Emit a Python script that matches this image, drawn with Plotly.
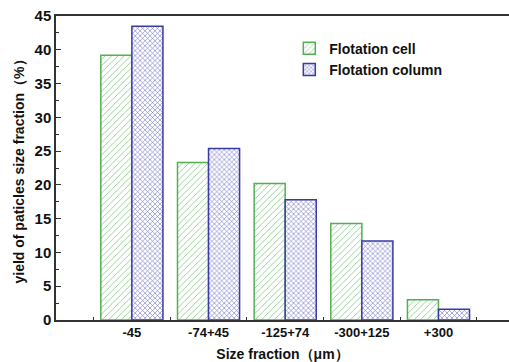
import plotly.graph_objects as go

categories = ["-45", "-74+45", "-125+74", "-300+125", "+300"]
cell_values = [39.2, 23.3, 20.2, 14.3, 3.0]
column_values = [43.5, 25.4, 17.8, 11.7, 1.6]
series_names = ["Flotation cell", "Flotation column"]

FONT = "Liberation Sans, Arial, sans-serif"

fig = go.Figure()
fig.add_trace(go.Bar(
    x=categories, y=cell_values, name=series_names[0],
    marker=dict(color="white",
                line=dict(color="#52b052", width=1.5),
                pattern=dict(shape="/", fgcolor="rgba(90,185,90,0.7)", bgcolor="white",
                             size=4.5, solidity=0.2, fillmode="replace")),
))
fig.add_trace(go.Bar(
    x=categories, y=column_values, name=series_names[1],
    marker=dict(color="white",
                line=dict(color="#3a3aa6", width=1.5),
                pattern=dict(shape="x", fgcolor="rgba(70,70,180,0.8)", bgcolor="white",
                             size=3.5, solidity=0.3, fillmode="replace")),
))

fig.update_layout(
    width=509, height=362,
    margin=dict(l=56, r=0, t=16, b=42, autoexpand=False),
    paper_bgcolor="white", plot_bgcolor="white",
    barmode="group", bargap=0.19, bargroupgap=0,
    font=dict(family=FONT, color="#111", size=13, weight="bold"),
    showlegend=True,
    legend=dict(x=0.515, y=0.945, xanchor="left", yanchor="top",
                bgcolor="rgba(0,0,0,0)", borderwidth=0,
                font=dict(family=FONT, size=14, color="#111", weight="bold"),
                tracegroupgap=0, itemwidth=30),
    xaxis=dict(
        type="category", range=[-0.99, 4.92], automargin=False,
        tickson="boundaries", ticks="inside", ticklen=3, tickwidth=1.2, tickcolor="#333",
        showline=True, linecolor="#333", linewidth=1.5, mirror=True,
        showgrid=False, zeroline=False,
        tickfont=dict(family=FONT, size=13, color="#111", weight="bold"),
        title=dict(text="Size fraction（μm）", standoff=10,
                   font=dict(family=FONT, size=14, color="#111", weight="bold")),
    ),
    yaxis=dict(
        range=[0, 45], dtick=5, tick0=0, automargin=False,
        ticks="inside", ticklen=5, tickwidth=1.2, tickcolor="#333",
        minor=dict(dtick=2.5, ticks="inside", ticklen=3, tickcolor="#333", tickwidth=1.2),
        showline=True, linecolor="#333", linewidth=1.5, mirror=False,
        showgrid=False, zeroline=False,
        tickfont=dict(family=FONT, size=15, color="#111", weight="bold"),
        title=dict(text="yield of paticles size fraction（%）", standoff=7,
                   font=dict(family=FONT, size=14, color="#111", weight="bold")),
    ),
)

fig.write_html("out.html", config={"displayModeBar": False},
               post_script="document.body.style.margin='0';document.body.style.padding='0';")
